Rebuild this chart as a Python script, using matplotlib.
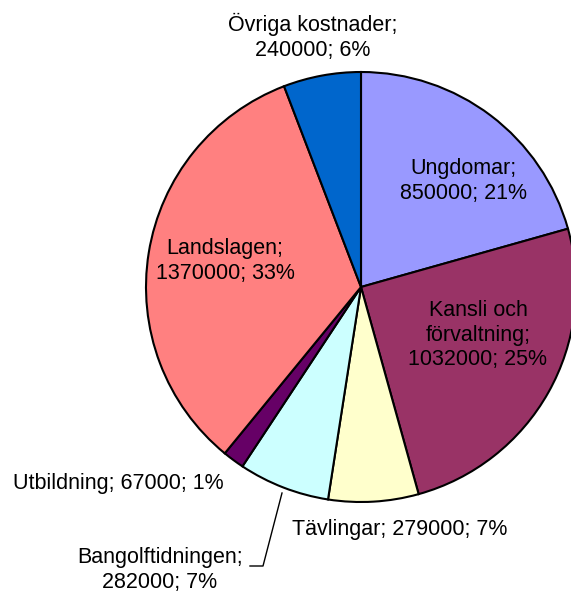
import matplotlib
matplotlib.use("Agg")
import matplotlib.pyplot as plt

categories = ["Ungdomar", "Kansli och\nförvaltning", "Tävlingar", "Bangolftidningen",
              "Utbildning", "Landslagen", "Övriga kostnader"]
values = [850000, 1032000, 279000, 282000, 67000, 1370000, 240000]
percents = ["21%", "25%", "7%", "7%", "1%", "33%", "6%"]
colors = ["#9999FF", "#993366", "#FFFFCC", "#CCFFFF", "#660066", "#FF8080", "#0066CC"]

W, H = 571, 595
fig = plt.figure(figsize=(W / 100, H / 100), dpi=100)
ax = fig.add_axes([0, 0, 1, 1])

cx, cy, r = 361, H - 287, 215
ax.pie(values, colors=colors, startangle=90, counterclock=False,
       center=(cx, cy), radius=r, frame=True,
       wedgeprops=dict(edgecolor="black", linewidth=1.5))
ax.set_xlim(0, W)
ax.set_ylim(0, H)
ax.set_aspect("equal")
ax.axis("off")

font = dict(family="Liberation Sans", fontsize=15.5, color="black", linespacing=1.22)

def lab(i, sep="\n"):
    return f"{categories[i]};{sep}{values[i]}; {percents[i]}"

# label positions in pixel coords (x, y from top)
ax.text(463, H - 181, lab(0), ha="center", va="center", **font)
ax.text(478, H - 335, lab(1), ha="center", va="center", **font)
ax.text(400, H - 530, lab(2, " "), ha="center", va="center", **font)
ax.text(160, H - 570, lab(3), ha="center", va="center", **font)
ax.text(118, H - 484, lab(4, " "), ha="center", va="center", **font)
ax.text(225, H - 261, lab(5), ha="center", va="center", **font)
ax.text(313, H - 37, lab(6), ha="center", va="center", **font)

# leader line for Bangolftidningen
ax.plot([250, 263, 282], [H - 566, H - 566, H - 493], color="black", linewidth=1.0)

fig.savefig("out.png", dpi=100)
